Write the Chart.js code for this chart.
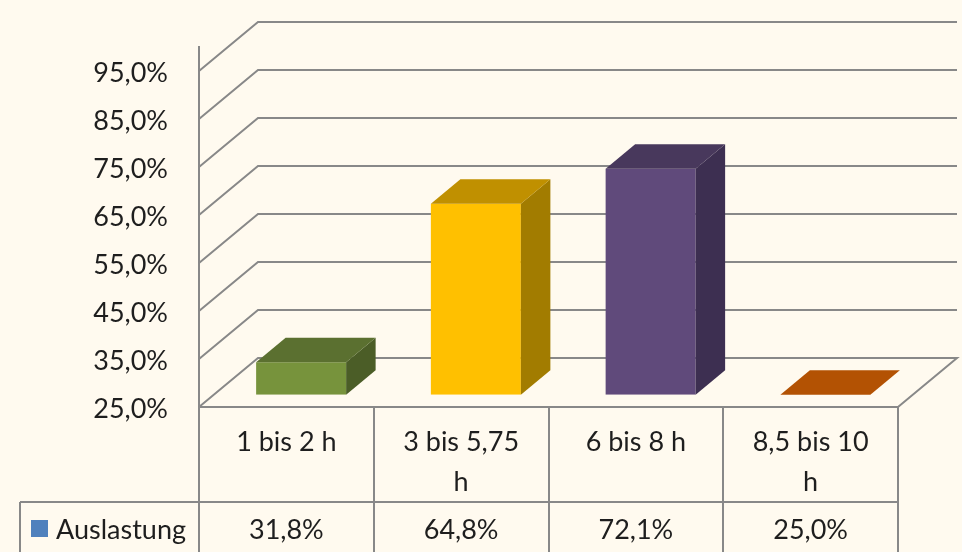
<!DOCTYPE html>
<html>
<head>
<meta charset="utf-8">
<title>Auslastung</title>
<script src="https://cdn.jsdelivr.net/npm/chart.js@4/dist/chart.umd.min.js"></script>
<style>
    html, body { margin: 0; padding: 0; background: #FFFAEF; }
    canvas { display: block; }
</style>
</head>
<body>
<canvas id="chart" width="962" height="552"></canvas>
<script>
'use strict';

// Data
const categoryLabels = [['1 bis 2 h'], ['3 bis 5,75', 'h'], ['6 bis 8 h'], ['8,5 bis 10', 'h']];
const seriesName = 'Auslastung';
const auslastung = [31.8, 64.8, 72.1, 25.0];
const yTickValues = [25, 35, 45, 55, 65, 75, 85, 95];
const yMin = 25;
const yMax = 100;

/**
 * Look and feel
 */
const FONT = { family: 'Lato, "Open Sans", sans-serif', size: 27 };
const TEXT = '#1e1e1e';
const LINE = '#888888';
const FRONT = ['#77933C', '#FFC000', '#604A7B', '#E46C0A'];
const TOP = ['#5B7030', '#C09000', '#48385C', '#B35203'];
const SIDE = ['#4B5D27', '#A27C00', '#3D2F51', '#9A4500'];
const LEGEND_COLOR = '#4F81BD';

// depth of the 3D box (back wall offset) and where the bars sit inside it
const DEPTH_X = 59,
    DEPTH_Y = 49,
    F0 = 0.25,
    F1 = 0.75;

const pct = (v) => Number(v).toFixed(1).replace('.', ',') + '%';

const poly = (ctx, color, pts) => {
    ctx.beginPath();
    ctx.moveTo(pts[0][0], pts[0][1]);
    pts.slice(1).forEach((p) => ctx.lineTo(p[0], p[1]));
    ctx.closePath();
    ctx.fillStyle = color;
    ctx.fill();
};

const excel3d = {
    id: 'excel3d',

    beforeDatasetsDraw(chart) {
        const { ctx, chartArea: a, scales: { y } } = chart;

        // walls and floor
        ctx.save();
        ctx.strokeStyle = LINE;
        ctx.lineWidth = 2;
        yTickValues.forEach((v) => {
            const py = Math.round(y.getPixelForValue(v));
            ctx.beginPath();
            ctx.moveTo(a.left, py);
            ctx.lineTo(a.left + DEPTH_X, py - DEPTH_Y);
            ctx.lineTo(a.right + DEPTH_X, py - DEPTH_Y);
            if (v === yMin) {
                ctx.lineTo(a.right, py);
            }
            ctx.stroke();
        });
        ctx.restore();

        // push the bar fronts back into the box
        ctx.save();
        ctx.translate(DEPTH_X * F0, -DEPTH_Y * F0);
    },

    afterDatasetsDraw(chart) {
        const { ctx } = chart;
        ctx.restore();

        const dx = DEPTH_X * (F1 - F0),
            dy = DEPTH_Y * (F1 - F0);

        chart.getDatasetMeta(0).data.forEach((bar, i) => {
            const { x, y, base, width } = bar.getProps(['x', 'y', 'base', 'width'], true);
            const x0 = x - width / 2 + DEPTH_X * F0,
                x1 = x + width / 2 + DEPTH_X * F0,
                yt = y - DEPTH_Y * F0,
                yb = base - DEPTH_Y * F0;

            if (yb - yt > 0.5) {
                poly(ctx, SIDE[i], [[x1, yt], [x1 + dx, yt - dy], [x1 + dx, yb - dy], [x1, yb]]);
            }
            poly(ctx, TOP[i], [[x0, yt], [x1, yt], [x1 + dx, yt - dy], [x0 + dx, yt - dy]]);
        });
    },

    afterDraw(chart) {
        const { ctx, chartArea: a, scales: { x } } = chart;
        const half = (x.getPixelForValue(1) - x.getPixelForValue(0)) / 2;
        const edges = [a.left].concat(auslastung.map((_, i) => Math.round(x.getPixelForValue(i) + half)));
        const rowTop = 502,
            bottom = chart.height,
            legendLeft = 20,
            rowMid = 530;

        ctx.save();
        ctx.strokeStyle = LINE;
        ctx.lineWidth = 2;
        ctx.beginPath();
        edges.forEach((ex) => {
            ctx.moveTo(ex, a.bottom);
            ctx.lineTo(ex, bottom);
        });
        ctx.moveTo(legendLeft, rowTop);
        ctx.lineTo(a.right, rowTop);
        ctx.moveTo(legendLeft, rowTop);
        ctx.lineTo(legendLeft, bottom);
        ctx.stroke();

        // legend key of the data table
        ctx.fillStyle = LEGEND_COLOR;
        ctx.fillRect(31, 520, 17, 17);

        ctx.font = FONT.size + 'px ' + FONT.family;
        ctx.fillStyle = TEXT;
        ctx.textBaseline = 'middle';
        ctx.textAlign = 'left';
        ctx.fillText(seriesName, 56, rowMid);

        ctx.textAlign = 'center';
        auslastung.forEach((v, i) => {
            ctx.fillText(pct(v), x.getPixelForValue(i), rowMid);
        });
        ctx.restore();
    }
};

new Chart(document.getElementById('chart'), {
    type: 'bar',
    data: {
        labels: categoryLabels,
        datasets: [{
            label: seriesName,
            data: auslastung,
            base: yMin,
            backgroundColor: FRONT,
            borderWidth: 0,
            barPercentage: 0.515,
            categoryPercentage: 1
        }]
    },
    options: {
        responsive: false,
        animation: false,
        layout: {
            padding: { top: 38, right: 64, bottom: 0, left: 0 }
        },
        plugins: {
            legend: { display: false },
            tooltip: { enabled: false }
        },
        scales: {
            x: {
                grid: { display: false, drawTicks: false },
                border: { display: true, color: LINE, width: 2 },
                ticks: {
                    color: TEXT,
                    font: { family: FONT.family, size: FONT.size, lineHeight: '40px' },
                    padding: 15,
                    autoSkip: false,
                    maxRotation: 0
                },
                afterFit: (scale) => { scale.height = 145; }
            },
            y: {
                min: yMin,
                max: yMax,
                grid: { display: false, drawTicks: false },
                border: { display: true, color: LINE, width: 2 },
                ticks: {
                    color: TEXT,
                    font: { family: FONT.family, size: FONT.size },
                    padding: 31,
                    labelOffset: 2,
                    callback: (v) => pct(v)
                },
                afterBuildTicks: (scale) => {
                    scale.ticks = yTickValues.map((v) => ({ value: v }));
                },
                afterFit: (scale) => { scale.width = 199; }
            }
        }
    },
    plugins: [excel3d]
});
</script>
</body>
</html>
